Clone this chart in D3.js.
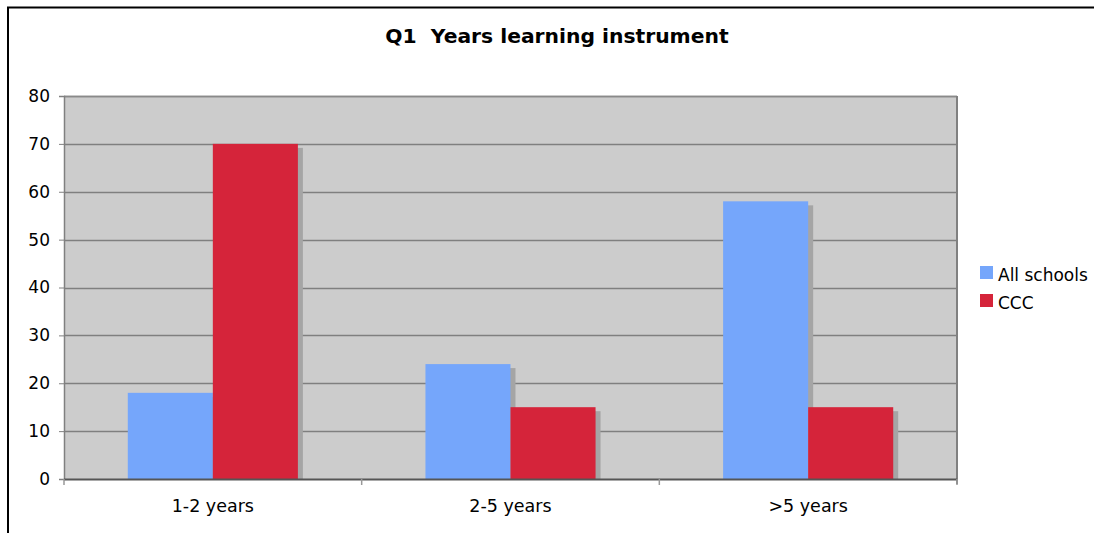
<!DOCTYPE html>
<html><head><meta charset="utf-8">
<script src="https://cdn.jsdelivr.net/npm/d3@7"></script>
<style>body{margin:0;background:#fff}svg{display:block}text{font-family:"DejaVu Sans",Verdana,sans-serif}</style>
</head><body>
<svg id="c" width="1094" height="533"></svg>
<script>
const categories = ["1-2 years", "2-5 years", ">5 years"];
const seriesNames = ["All schools", "CCC"];
const allSchools = [18, 24, 58];
const ccc = [70, 15, 15];
const yTicks = [0, 10, 20, 30, 40, 50, 60, 70, 80];
const colors = ["#75a6fb", "#d5243a"];
const title = "Q1  Years learning instrument";

const svg = d3.select("#c");
const m = {l: 64, r: 957, t: 96, b: 479};

// outer frame
svg.append("line").attr("x1", 7).attr("x2", 1094).attr("y1", 7.5).attr("y2", 7.5).attr("stroke", "#000").attr("stroke-width", 2);
svg.append("line").attr("x1", 8).attr("x2", 8).attr("y1", 7).attr("y2", 533).attr("stroke", "#000").attr("stroke-width", 2);

svg.append("text").attr("x", 557).attr("y", 43).attr("text-anchor", "middle")
  .attr("font-size", 20.3).attr("font-weight", "bold").attr("fill", "#000")
  .style("white-space", "pre").attr("xml:space", "preserve").text(title);

const x = d3.scaleBand().domain(categories).range([m.l, m.r]);
const y = d3.scaleLinear().domain([0, 80]).range([m.b, m.t]);
const xs = d3.scaleBand().domain(seriesNames).range([0, x.bandwidth()]).paddingOuter(0.75).paddingInner(0);

svg.append("rect").attr("x", m.l).attr("y", m.t).attr("width", m.r - m.l).attr("height", m.b - m.t).attr("fill", "#cccccc");

// grid
svg.append("g").selectAll("line").data(yTicks.filter(d => d > 0)).join("line")
  .attr("x1", m.l).attr("x2", m.r).attr("y1", d => Math.round(y(d)) + 0.5).attr("y2", d => Math.round(y(d)) + 0.5)
  .attr("stroke", "#7f7f7f").attr("stroke-width", 1.5);

const series = [allSchools, ccc];
const rows = [];
series.forEach((vals, si) => vals.forEach((v, ci) => rows.push({s: seriesNames[si], si, c: categories[ci], v})));

// shadows
svg.append("g").selectAll("rect").data(rows).join("rect")
  .attr("x", d => x(d.c) + xs(d.s) + 5).attr("y", d => y(d.v) + 4)
  .attr("width", xs.bandwidth()).attr("height", d => m.b - y(d.v) - 4)
  .attr("fill", "#a5a5a5");
// bars
svg.append("g").selectAll("rect").data(rows).join("rect")
  .attr("x", d => x(d.c) + xs(d.s)).attr("y", d => y(d.v))
  .attr("width", xs.bandwidth()).attr("height", d => m.b - y(d.v))
  .attr("fill", d => colors[d.si]);

// plot border right/top
svg.append("line").attr("x1", m.l).attr("x2", m.r).attr("y1", m.t + 0.5).attr("y2", m.t + 0.5).attr("stroke", "#8a8a8a").attr("stroke-width", 1.5);
svg.append("line").attr("x1", m.r).attr("x2", m.r).attr("y1", m.t).attr("y2", m.b + 5).attr("stroke", "#808080").attr("stroke-width", 2);

// axes
const ya = svg.append("g").attr("transform", `translate(${m.l},0)`)
  .call(d3.axisLeft(y).tickValues(yTicks).tickSize(5).tickPadding(9));
ya.select(".domain").attr("stroke", "#808080").attr("stroke-width", 1.5);
ya.selectAll(".tick line").attr("stroke", "#808080");
ya.selectAll("text").attr("font-size", 17).attr("fill", "#000").attr("font-family", "DejaVu Sans, sans-serif");

const xa = svg.append("g").attr("transform", `translate(0,${m.b})`)
  .call(d3.axisBottom(x).tickSize(0).tickPadding(21));
xa.select(".domain").remove();
xa.append("line").attr("x1", m.l).attr("x2", m.r).attr("y1", 0.5).attr("y2", 0.5).attr("stroke", "#555").attr("stroke-width", 2);
xa.selectAll(".tick text").attr("font-size", 17.5).attr("fill", "#000").attr("font-family", "DejaVu Sans, sans-serif");
xa.selectAll(".cat").data([...categories.map(c => x(c)), m.r]).join("line").attr("class", "cat")
  .attr("x1", d => d).attr("x2", d => d).attr("y1", 0).attr("y2", 6).attr("stroke", "#999").attr("stroke-width", 1.5);

// legend
const lg = svg.append("g").attr("transform", "translate(980,266)");
seriesNames.forEach((n, i) => {
  lg.append("rect").attr("x", 0).attr("y", i * 28).attr("width", 13).attr("height", 13).attr("fill", colors[i]);
  lg.append("text").attr("x", 18).attr("y", i * 28 + 15).attr("font-size", 17).attr("fill", "#000").text(n);
});
</script>
</body></html>
